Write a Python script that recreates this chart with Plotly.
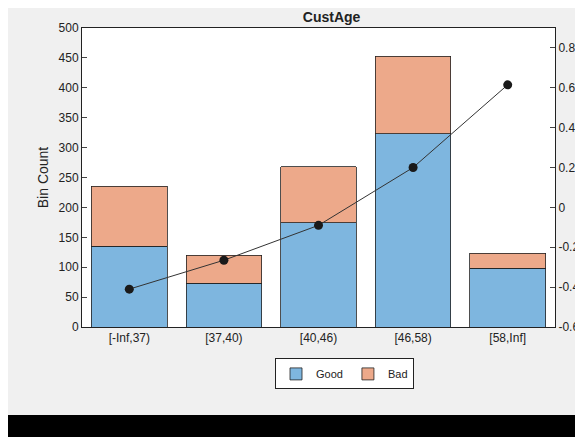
import plotly.graph_objects as go

cats = ["[-Inf,37)", "[37,40)", "[40,46)", "[46,58)", "[58,Inf]"]
good = [135, 73, 174, 323, 98]
bad = [100, 47, 94, 130, 25]
woe = [-0.41, -0.265, -0.09, 0.2, 0.615]
rticks = [-0.6, -0.4, -0.2, 0, 0.2, 0.4, 0.6, 0.8]

fig = go.Figure()
fig.add_bar(x=cats, y=good, name="Good", marker=dict(color="#7EB6DF", line=dict(color="#222", width=0.8)))
fig.add_bar(x=cats, y=bad, name="Bad", marker=dict(color="#EDA98A", line=dict(color="#222", width=0.8)))
fig.add_scatter(x=cats, y=woe, yaxis="y2", mode="lines+markers", showlegend=False,
                line=dict(color="#333", width=1), marker=dict(color="#1a1a1a", size=9))
fig.update_layout(
    width=583, height=437, barmode="stack", bargap=0.2,
    margin=dict(l=74, r=36, t=20, b=118, autoexpand=False),
    paper_bgcolor="#f0f0f0", plot_bgcolor="white",
    font=dict(family="Liberation Sans, Arial", size=12, color="#222"),
    title=dict(text="<b>CustAge</b>", x=0.555, xanchor="center", y=0.979, yanchor="middle", font=dict(size=14)),
    xaxis=dict(showline=True, linecolor="#222", mirror=True, ticks="", tickfont=dict(size=12)),
    yaxis=dict(range=[0, 500], dtick=50, showline=True, linecolor="#222", ticks="inside",
               showgrid=False, title=dict(text="Bin Count", standoff=6), zeroline=False),
    yaxis2=dict(overlaying="y", side="right", range=[-0.6, 0.9], tickvals=rticks,
                ticktext=[f"{v:g}" for v in rticks], ticks="inside", showgrid=False,
                zeroline=False, showline=True, linecolor="#222"),
    legend=dict(orientation="h", traceorder="normal", x=0.555, xanchor="center", y=-0.105, yanchor="top",
                bgcolor="white", bordercolor="#222", borderwidth=1, font=dict(size=11),
                itemwidth=30, tracegroupgap=0),
    shapes=[dict(type="rect", xref="paper", yref="paper", x0=-0.5, x1=1.2, y0=-0.294, y1=-0.6,
                 fillcolor="black", line=dict(width=0), layer="above")],
)
fig.write_html("out.html")
